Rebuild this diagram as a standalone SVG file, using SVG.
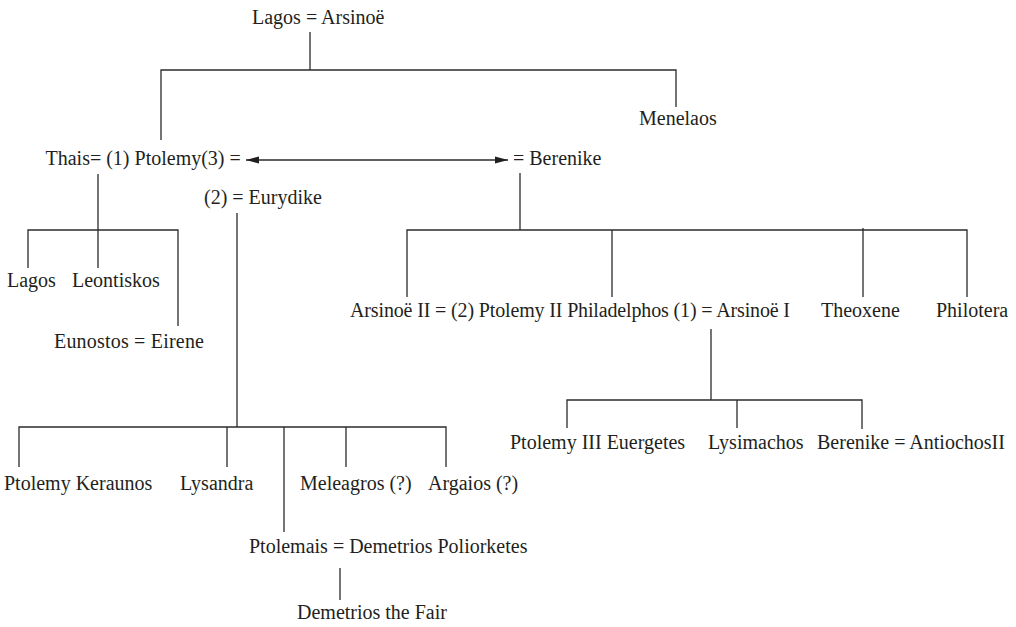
<svg xmlns="http://www.w3.org/2000/svg" width="1016" height="627" viewBox="0 0 1016 627">
  <style>
    .name { font-family: "Liberation Serif", "Times New Roman", serif; font-size: 20px; fill: #231f20; }
    .link { fill: none; stroke: #2b2b2b; stroke-width: 1.3; }
  </style>
  <defs>
    <marker id="arrowhead" viewBox="0 -4 14 8" refX="13" refY="0" markerWidth="14" markerHeight="8" markerUnits="userSpaceOnUse" orient="auto-start-reverse">
      <path d="M0,-3.6 L13,0 L0,3.6 Z" fill="#231f20"/>
    </marker>
  </defs>
  <rect width="1016" height="627" fill="#ffffff"/>

  <!-- family lines -->
  <g id="connectors">
    <!-- Lagos and Arsinoë to their sons -->
    <path class="link" d="M310,32 V70"/>
    <path class="link" d="M161,140 V70 H676 V107"/>
    <!-- Ptolemy's third marriage -->
    <path class="link" d="M246,160 H508" marker-start="url(#arrowhead)" marker-end="url(#arrowhead)"/>
    <!-- children of Thais -->
    <path class="link" d="M98,174 V230"/>
    <path class="link" d="M28,268 V230 H178 V326"/>
    <path class="link" d="M98,230 V268"/>
    <!-- children of Berenike -->
    <path class="link" d="M520,173 V230"/>
    <path class="link" d="M407,297 V230 H967 V297"/>
    <path class="link" d="M612,230 V297"/>
    <path class="link" d="M863,228 V297"/>
    <!-- children of Arsinoë I -->
    <path class="link" d="M711,329 V400"/>
    <path class="link" d="M567,428 V400 H862 V429"/>
    <path class="link" d="M737,400 V428"/>
    <!-- children of Eurydike -->
    <path class="link" d="M237,213 V427"/>
    <path class="link" d="M19,467 V427 H446 V467"/>
    <path class="link" d="M227,427 V467"/>
    <path class="link" d="M284,427 V532"/>
    <path class="link" d="M346,427 V467"/>
    <!-- son of Ptolemais -->
    <path class="link" d="M340,568 V600"/>
  </g>

  <g id="lagos-arsinoe"><text class="name" x="252" y="24">Lagos = Arsinoë</text></g>
  <g id="menelaos"><text class="name" x="639" y="125">Menelaos</text></g>
  <g id="thais-ptolemy"><text class="name" x="45.5" y="165">Thais= (1) Ptolemy(3) =</text></g>
  <g id="berenike"><text class="name" x="513" y="165">= Berenike</text></g>
  <g id="eurydike"><text class="name" x="204" y="204">(2) = Eurydike</text></g>

  <g id="lagos"><text class="name" x="7" y="287">Lagos</text></g>
  <g id="leontiskos"><text class="name" x="72" y="287">Leontiskos</text></g>
  <g id="eunostos-eirene"><text class="name" x="54" y="348" textLength="150" lengthAdjust="spacing">Eunostos = Eirene</text></g>

  <g id="ptolemy-ii"><text class="name" x="350" y="317" textLength="440" lengthAdjust="spacing">Arsinoë II = (2) Ptolemy II Philadelphos (1) = Arsinoë I</text></g>
  <g id="theoxene"><text class="name" x="821" y="317">Theoxene</text></g>
  <g id="philotera"><text class="name" x="936" y="317">Philotera</text></g>

  <g id="ptolemy-iii"><text class="name" x="510" y="449">Ptolemy III Euergetes</text></g>
  <g id="lysimachos"><text class="name" x="708" y="449">Lysimachos</text></g>
  <g id="berenike-antiochos"><text class="name" x="817" y="449">Berenike = AntiochosII</text></g>

  <g id="ptolemy-keraunos"><text class="name" x="4" y="490">Ptolemy Keraunos</text></g>
  <g id="lysandra"><text class="name" x="180" y="490">Lysandra</text></g>
  <g id="meleagros"><text class="name" x="300" y="490">Meleagros (?)</text></g>
  <g id="argaios"><text class="name" x="428" y="490">Argaios (?)</text></g>

  <g id="ptolemais-demetrios"><text class="name" x="249" y="553">Ptolemais = Demetrios Poliorketes</text></g>
  <g id="demetrios-the-fair"><text class="name" x="297" y="619">Demetrios the Fair</text></g>
</svg>
